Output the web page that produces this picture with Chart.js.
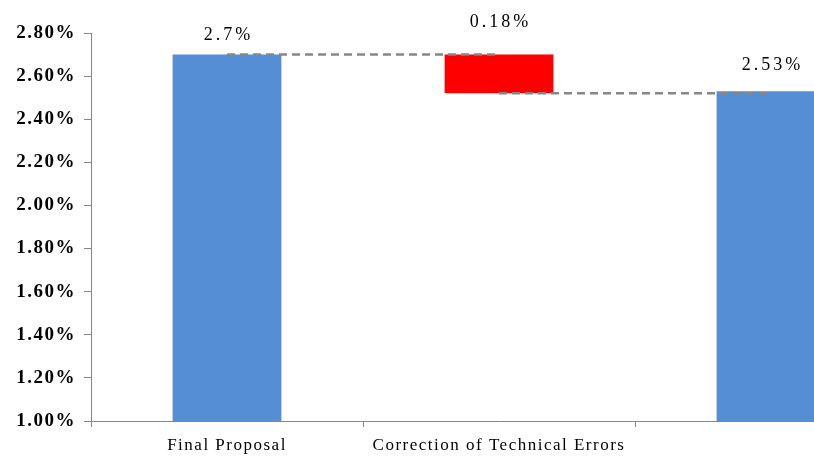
<!DOCTYPE html>
<html>
<head>
<meta charset="utf-8">
<script src="https://cdn.jsdelivr.net/npm/chart.js@4"></script>
<style>
  html, body { margin: 0; padding: 0; background: #fff; overflow: hidden; }
  #wrap { width: 907px; height: 456px; }
</style>
</head>
<body>
<div id="wrap"><canvas id="bridgeChart" width="907" height="456"></canvas></div>
<script>
// Bridge from the final proposal to the corrected figure
const categories = ["Final Proposal", "Correction of Technical Errors", ""];
const values = [2.70, -0.18, 2.53];
const valueLabels = ["2.7%", "0.18%", "2.53%"];
const barColors = ["#558ED5", "#FF0000", "#558ED5"];
const axisMin = 1.0;
const axisMax = 2.8;

// floating ranges: totals start at the axis, the change hangs from the first total
const afterChange = values[0] + values[1];
const ranges = [
    [axisMin, values[0]],
    [afterChange, values[0]],
    [axisMin, values[2]]
];

// labels sit a little above each bar top
const labelOffsets = [19, 32, 26];

// wider tracking for all axis text
const spacingPlugin = {
    id: "spacing",
    beforeInit(chart) { chart.ctx.letterSpacing = "1.5px"; },
    beforeDraw(chart) { chart.ctx.letterSpacing = "1.5px"; }
};

const valueLabelPlugin = {
    id: "valueLabels",
    afterDatasetsDraw(chart) {
        const ctx = chart.ctx;
        const meta = chart.getDatasetMeta(2);
        ctx.save();
        ctx.letterSpacing = "3px";
        ctx.font = "18px 'Liberation Serif'";
        ctx.fillStyle = "#000";
        ctx.textAlign = "center";
        ctx.textBaseline = "middle";
        meta.data.forEach((bar, i) => {
            const top = chart.scales.y.getPixelForValue(ranges[i][1]);
            ctx.fillText(valueLabels[i], bar.x + 1.5, top - labelOffsets[i]);
        });
        ctx.restore();
    }
};

const ctx = document.getElementById("bridgeChart").getContext("2d");

new Chart(ctx, {
    type: "bar",
    data: {
        labels: categories,
        datasets: [
            {
                type: "line",
                data: [values[0], values[0], null],
                borderColor: "#868686",
                borderWidth: 2.5,
                borderDash: [8, 5],
                pointRadius: 0,
                fill: false,
                order: 0
            },
            {
                type: "line",
                data: [null, afterChange, afterChange],
                borderColor: "#868686",
                borderWidth: 2.5,
                borderDash: [8, 5],
                pointRadius: 0,
                fill: false,
                order: 0
            },
            {
                data: ranges,
                backgroundColor: barColors,
                borderWidth: 0,
                barPercentage: 0.4,
                categoryPercentage: 1.0,
                order: 1
            }
        ]
    },
    options: {
        responsive: false,
        animation: false,
        layout: { padding: { left: 10, top: 33, right: 0, bottom: 0 } },
        plugins: {
            legend: { display: false },
            tooltip: { enabled: false }
        },
        scales: {
            x: {
                offset: true,
                grid: {
                    offset: true,
                    drawOnChartArea: false,
                    drawTicks: true,
                    tickLength: 6,
                    color: "#868686"
                },
                border: { color: "#868686", width: 1 },
                ticks: {
                    color: "#000",
                    padding: 8,
                    maxRotation: 0,
                    font: { family: "'Liberation Serif'", size: 17 }
                },
                afterFit(scale) { scale.height = 35; }
            },
            y: {
                min: axisMin,
                max: axisMax,
                grid: {
                    drawOnChartArea: false,
                    drawTicks: true,
                    tickLength: 7,
                    color: "#868686"
                },
                border: { color: "#868686", width: 1 },
                ticks: {
                    stepSize: 0.2,
                    color: "#000",
                    padding: 8,
                    font: { family: "'Liberation Serif'", size: 19, weight: "bold" },
                    callback: (v) => v.toFixed(2) + "%"
                },
                afterFit(scale) { scale.width = 81; }
            }
        }
    },
    plugins: [spacingPlugin, valueLabelPlugin]
});
</script>
</body>
</html>
